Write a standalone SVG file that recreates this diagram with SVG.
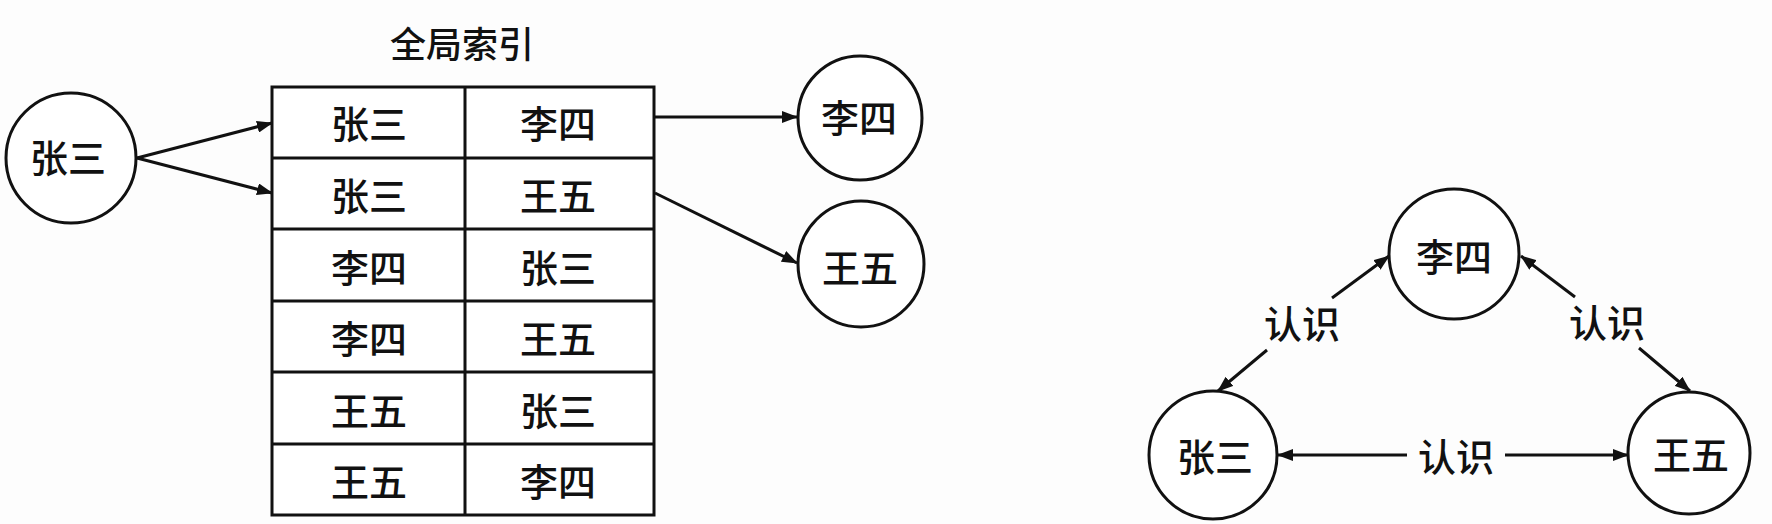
<svg xmlns="http://www.w3.org/2000/svg" width="1772" height="524" viewBox="0 0 1772 524">
  <defs>
    <marker id="arr" markerUnits="userSpaceOnUse" markerWidth="16" markerHeight="12" refX="15" refY="6" orient="auto">
      <path d="M0,0 L16,6 L0,12 z" fill="#111"/>
    </marker>
    <style>
      .t { font-family: "Noto Sans CJK SC", "Noto Sans", sans-serif; font-size: 38px; font-weight: 500; fill: #111; text-anchor: middle; dominant-baseline: central; }
      .title { font-size: 36px; }
      .node { fill: #fff; stroke: #111; stroke-width: 3; }
      .cell { fill: #fff; stroke: #111; stroke-width: 3; }
      .edge { stroke: #111; stroke-width: 3; fill: none; marker-end: url(#arr); }
    </style>
  </defs>
  <rect width="1772" height="524" fill="#fdfdfd"/>

  <g id="connectors">
    <line class="edge" x1="137" y1="158" x2="272" y2="123"/>
    <line class="edge" x1="137" y1="158" x2="272" y2="193"/>
    <line class="edge" x1="655" y1="117" x2="797" y2="117"/>
    <line class="edge" x1="655" y1="193" x2="797" y2="263"/>
    <line class="edge" x1="1332" y1="298" x2="1389" y2="256"/>
    <line class="edge" x1="1267" y1="350" x2="1218" y2="391"/>
    <line class="edge" x1="1575" y1="297" x2="1521" y2="256"/>
    <line class="edge" x1="1639" y1="348" x2="1690" y2="391"/>
    <line class="edge" x1="1407" y1="455" x2="1278" y2="455"/>
    <line class="edge" x1="1505" y1="455" x2="1628" y2="455"/>
  </g>

  <g id="edge-labels">
    <text class="t" x="1302" y="321">认识</text>
    <text class="t" x="1607" y="320">认识</text>
    <text class="t" x="1456" y="454">认识</text>
  </g>

  <g id="node-zhangsan-left">
    <circle class="node" cx="71" cy="158" r="65"/>
    <text class="t" x="68" y="155">张三</text>
  </g>

  <g id="global-index">
    <text class="t title" x="462" y="42">全局索引</text>
    <rect class="cell" x="272" y="87" width="382" height="428"/>
    <line class="cell" x1="465" y1="87" x2="465" y2="515"/>
    <line class="cell" x1="272" y1="158" x2="654" y2="158"/>
    <line class="cell" x1="272" y1="229" x2="654" y2="229"/>
    <line class="cell" x1="272" y1="301" x2="654" y2="301"/>
    <line class="cell" x1="272" y1="372" x2="654" y2="372"/>
    <line class="cell" x1="272" y1="444" x2="654" y2="444"/>
    <text class="t" x="369" y="121">张三</text>
    <text class="t" x="558" y="121">李四</text>
    <text class="t" x="369" y="193">张三</text>
    <text class="t" x="558" y="193">王五</text>
    <text class="t" x="369" y="265">李四</text>
    <text class="t" x="558" y="265">张三</text>
    <text class="t" x="369" y="336">李四</text>
    <text class="t" x="558" y="336">王五</text>
    <text class="t" x="369" y="408">王五</text>
    <text class="t" x="558" y="408">张三</text>
    <text class="t" x="369" y="479">王五</text>
    <text class="t" x="558" y="479">李四</text>
  </g>

  <g id="node-lisi-left">
    <circle class="node" cx="860" cy="118" r="62"/>
    <text class="t" x="859" y="115">李四</text>
  </g>
  <g id="node-wangwu-left">
    <circle class="node" cx="861" cy="264" r="63"/>
    <text class="t" x="860" y="265">王五</text>
  </g>

  <g id="node-lisi-right">
    <circle class="node" cx="1454" cy="254" r="65"/>
    <text class="t" x="1454" y="254">李四</text>
  </g>
  <g id="node-zhangsan-right">
    <circle class="node" cx="1213" cy="455" r="64"/>
    <text class="t" x="1215" y="454">张三</text>
  </g>
  <g id="node-wangwu-right">
    <circle class="node" cx="1689" cy="453" r="61"/>
    <text class="t" x="1691" y="452">王五</text>
  </g>
</svg>
